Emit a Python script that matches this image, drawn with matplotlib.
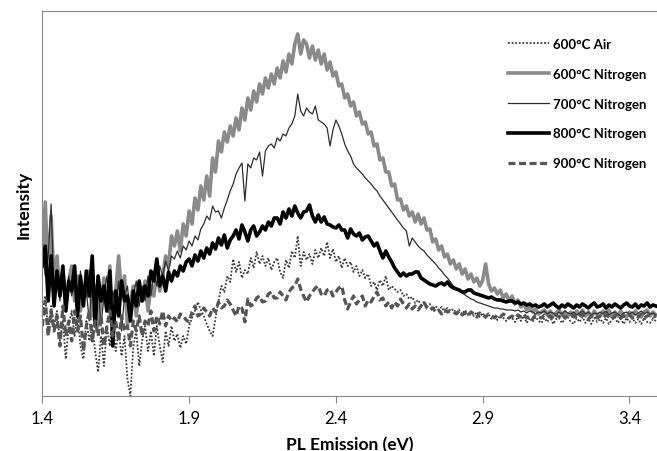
import numpy as np
import matplotlib
matplotlib.use("Agg")
import matplotlib.pyplot as plt

plt.rcParams['font.family'] = ['Lato', 'DejaVu Sans']

# photon energy grid, 1.40 .. 3.49 eV in 0.01 steps
energy = np.round(np.arange(140, 350) / 100.0, 2)

# PL intensity (arbitrary units)
air_600 = [
    80, 100, 65, 90, 70, 85, 55, 75, 37, 70,
    85, 60, 80, 50, 37, 75, 55, 70, 45, 24,
    60, 30, 70, 50, 75, 45, 65, 40, 60, 17,
    0, 50, 65, 30, 55, 70, 45, 65, 40, 70,
    50, 34, 65, 50, 70, 55, 62, 48, 60, 52,
    70, 78, 85, 94, 86, 80, 72, 65, 60, 78,
    95, 110, 104, 120, 114, 137, 124, 134, 118, 126,
    122, 138, 128, 144, 132, 140, 130, 138, 126, 134,
    138, 124, 118, 136, 128, 145, 138, 160, 130, 144,
    136, 142, 132, 146, 138, 148, 140, 154, 138, 147,
    134, 140, 128, 138, 130, 134, 124, 130, 120, 126,
    118, 122, 110, 114, 106, 116, 110, 120, 106, 110,
    107, 104, 106, 100, 102, 97, 99, 93, 96, 91,
    94, 89, 92, 87, 90, 86, 89, 84, 88, 85,
    87, 83, 86, 82, 86, 81, 85, 80, 84, 79,
    83, 78, 82, 77, 81, 76, 81, 78, 75, 80,
    78, 74, 79, 75, 80, 73, 78, 74, 79, 75,
    73, 78, 74, 79, 72, 77, 78, 73, 77, 79,
    74, 72, 78, 74, 79, 73, 77, 72, 78, 74,
    77, 73, 78, 72, 76, 79, 73, 77, 72, 78,
    74, 78, 73, 77, 72, 78, 74, 73, 77, 75,
]
n2_600 = [
    135, 194, 120, 180, 110, 140, 100, 125, 90, 115,
    130, 95, 120, 85, 110, 100, 125, 80, 110, 70,
    95, 118, 85, 130, 75, 105, 140, 100, 120, 70,
    95, 110, 80, 105, 95, 115, 85, 110, 100, 125,
    105, 120, 140, 130, 160, 150, 165, 145, 172, 160,
    185, 172, 198, 186, 210, 196, 220, 200, 238, 224,
    255, 244, 264, 254, 270, 260, 278, 266, 288, 276,
    298, 286, 305, 294, 312, 302, 318, 308, 322, 312,
    328, 318, 335, 324, 342, 332, 352, 362, 342, 356,
    352, 338, 350, 336, 346, 332, 342, 326, 334, 320,
    324, 310, 312, 298, 302, 290, 294, 280, 284, 272,
    274, 262, 264, 250, 252, 236, 238, 224, 224, 210,
    212, 196, 197, 186, 190, 180, 184, 174, 182, 172,
    178, 166, 167, 154, 157, 146, 150, 139, 142, 132,
    136, 127, 132, 122, 127, 117, 122, 114, 118, 110,
    116, 132, 112, 105, 108, 102, 106, 98, 102, 95,
    100, 92, 96, 89, 92, 86, 90, 84, 87, 82,
    84, 86, 81, 85, 80, 83, 86, 81, 84, 80,
    84, 79, 85, 81, 86, 80, 84, 79, 85, 81,
    80, 85, 81, 86, 79, 84, 80, 85, 81, 79,
    84, 80, 85, 81, 79, 84, 86, 80, 84, 81,
]
n2_700 = [
    150, 120, 140, 192, 100, 125, 95, 130, 85, 120,
    100, 115, 80, 125, 95, 105, 75, 115, 90, 110,
    70, 100, 120, 80, 105, 90, 115, 65, 100, 110,
    80, 100, 115, 90, 110, 95, 120, 100, 125, 110,
    130, 120, 135, 125, 140, 137, 145, 138, 150, 146,
    155, 150, 160, 156, 167, 172, 180, 176, 190, 184,
    185, 178, 188, 196, 205, 212, 222, 228, 233, 195,
    232, 228, 238, 236, 244, 220, 245, 250, 252, 248,
    258, 255, 262, 260, 268, 272, 280, 302, 285, 280,
    288, 284, 282, 290, 276, 274, 272, 268, 250, 266,
    276, 270, 262, 252, 245, 240, 232, 228, 225, 222,
    218, 215, 212, 208, 205, 200, 196, 192, 188, 184,
    180, 176, 172, 168, 165, 150, 158, 154, 150, 147,
    145, 141, 138, 135, 132, 128, 125, 121, 118, 114,
    110, 108, 106, 103, 101, 99, 97, 96, 94, 93,
    92, 91, 90, 89, 88, 88, 87, 87, 86, 86,
    86, 85, 86, 84, 85, 83, 85, 84, 82, 84,
    83, 85, 82, 84, 83, 81, 84, 82, 85, 83,
    82, 84, 81, 83, 85, 82, 84, 81, 83, 82,
    84, 82, 85, 81, 83, 84, 82, 80, 83, 84,
    82, 84, 81, 83, 85, 82, 84, 82, 83, 81,
]
n2_800 = [
    130, 150, 95, 140, 90, 125, 100, 130, 85, 115,
    105, 130, 80, 120, 90, 125, 100, 140, 70, 120,
    95, 110, 85, 125, 50, 105, 80, 115, 95, 100,
    75, 105, 90, 115, 95, 110, 100, 125, 115, 137,
    110, 120, 105, 124, 115, 125, 120, 130, 125, 134,
    137, 130, 141, 135, 145, 138, 148, 142, 153, 147,
    158, 151, 161, 148, 156, 160, 166, 157, 171, 164,
    155, 166, 170, 160, 164, 170, 166, 174, 170, 178,
    178, 172, 184, 178, 187, 180, 190, 183, 178, 184,
    185, 191, 180, 174, 181, 174, 179, 172, 171, 169,
    168, 171, 166, 166, 158, 167, 162, 160, 163, 156,
    159, 160, 155, 150, 153, 145, 138, 145, 139, 134,
    128, 124, 120, 123, 120, 122, 122, 124, 124, 118,
    116, 114, 112, 111, 110, 112, 113, 111, 114, 110,
    108, 107, 106, 104, 104, 106, 106, 103, 102, 101,
    100, 99, 98, 99, 97, 96, 96, 95, 94, 95,
    95, 93, 94, 92, 93, 91, 92, 90, 91, 89,
    90, 92, 89, 91, 93, 90, 88, 91, 89, 92,
    90, 88, 91, 89, 92, 90, 88, 91, 93, 89,
    90, 92, 88, 91, 89, 92, 90, 88, 91, 93,
    90, 89, 92, 88, 91, 90, 93, 89, 91, 90,
]
n2_900 = [
    70, 95, 60, 85, 65, 80, 50, 90, 60, 75,
    55, 85, 65, 80, 45, 70, 85, 55, 75, 60,
    80, 50, 70, 85, 60, 75, 55, 80, 65, 70,
    50, 75, 65, 80, 60, 75, 70, 85, 65, 80,
    72, 85, 70, 80, 75, 78, 74, 82, 80, 76,
    74, 84, 90, 80, 82, 88, 84, 80, 88, 84,
    94, 88, 90, 96, 92, 86, 80, 90, 88, 74,
    97, 90, 92, 98, 100, 94, 95, 102, 104, 98,
    98, 104, 100, 96, 104, 108, 110, 117, 107, 100,
    94, 100, 104, 108, 110, 102, 100, 106, 107, 100,
    104, 108, 110, 96, 87, 94, 100, 92, 96, 100,
    90, 96, 94, 100, 104, 96, 98, 90, 94, 88,
    94, 90, 97, 92, 88, 92, 87, 90, 86, 90,
    94, 88, 86, 88, 84, 86, 82, 86, 84, 85,
    84, 82, 85, 81, 83, 80, 84, 82, 79, 83,
    81, 79, 82, 80, 78, 81, 79, 82, 80, 78,
    80, 78, 81, 79, 82, 78, 80, 77, 81, 79,
    78, 81, 79, 80, 77, 81, 79, 82, 78, 80,
    79, 81, 78, 80, 82, 79, 77, 80, 81, 78,
    80, 78, 81, 79, 77, 80, 82, 78, 80, 79,
    81, 78, 80, 79, 82, 78, 80, 81, 79, 80,
]

labels = ['600°C Air', '600°C Nitrogen', '700°C Nitrogen',
          '800°C Nitrogen', '900°C Nitrogen']
xticks = [1.4, 1.9, 2.4, 2.9, 3.4]

fig = plt.figure(figsize=(6.57, 4.52), dpi=100)
ax = fig.add_axes([0.0644, 0.1217, 0.9356, 0.8518])

ax.plot(energy, air_600, color='#3c3c3c', lw=1.3, ls=(0, (1, 1)), label=labels[0])
ax.plot(energy, n2_600, color='#8a8a8a', lw=2.6, label=labels[1])
ax.plot(energy, n2_700, color='#2e2e2e', lw=0.9, label=labels[2])
ax.plot(energy, n2_800, color='black', lw=2.6, label=labels[3])
ax.plot(energy, n2_900, color='#555555', lw=2.3, ls=(0, (2.2, 1.1)), label=labels[4])

ax.set_xlim(1.4, 3.4937)
ax.set_ylim(0, 385)
ax.set_xticks(xticks)
ax.set_xticklabels([f'{t:.1f}' for t in xticks], fontsize=12)
ax.set_yticks([])
ax.tick_params(axis='x', direction='out', length=5, color='#888888', pad=5)
for side in ['left', 'bottom', 'top']:
    ax.spines[side].set_color('#888888')
ax.spines['right'].set_visible(False)

ax.set_xlabel('PL Emission (eV)', fontsize=12.5, fontweight='bold', labelpad=7)
ax.set_ylabel('Intensity', fontsize=12.5, fontweight='bold', labelpad=8)

leg = ax.legend(loc='upper left', bbox_to_anchor=(0.7576, 0.93), frameon=False,
                prop={'size': 9.5, 'weight': 'bold'}, handlelength=3.1,
                handletextpad=0.3, labelspacing=1.35, borderpad=0, borderaxespad=0)

fig.savefig('out.png', dpi=100)
